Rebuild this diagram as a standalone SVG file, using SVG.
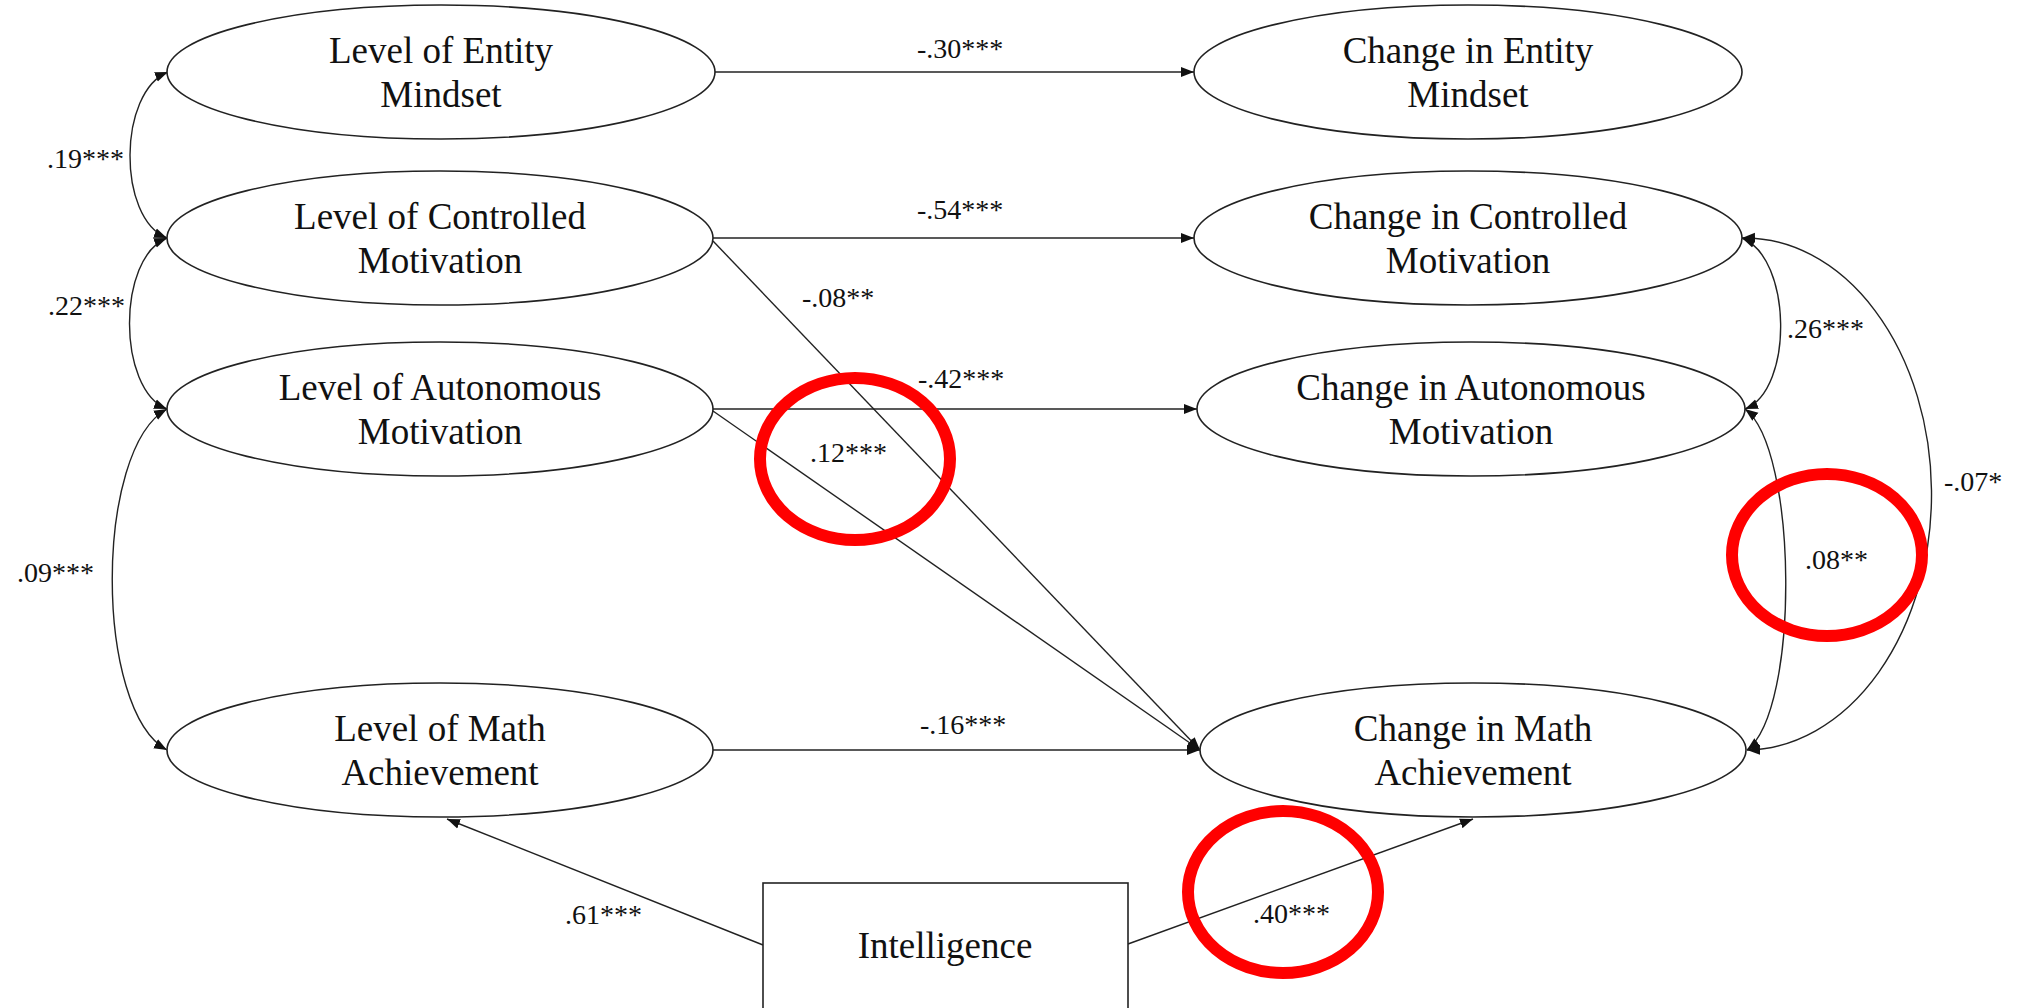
<svg xmlns="http://www.w3.org/2000/svg" width="2018" height="1008" viewBox="0 0 2018 1008">
<defs>
<marker id="arr" markerUnits="userSpaceOnUse" markerWidth="14" markerHeight="12" refX="13" refY="6" orient="auto-start-reverse" viewBox="0 0 14 12">
<path d="M0,1 L13,6 L0,11 z" fill="#111"/>
</marker>
</defs>
<style>
.node ellipse, .node rect { fill: #fff; stroke: #222; stroke-width: 1.6; }
.node text { font-family: "Liberation Serif", "Times New Roman", serif; font-size: 37px; fill: #111; text-anchor: middle; }
.conn path, .conn line { fill: none; stroke: #222; stroke-width: 1.4; }
.lbl { font-family: "Liberation Serif", "Times New Roman", serif; font-size: 28px; fill: #111; }
.mark ellipse { fill: none; stroke: #ff0000; stroke-width: 12; }
</style>
<rect width="2018" height="1008" fill="#fff"/>

<g id="connectors" class="conn">
<line x1="715" y1="72" x2="1194" y2="72" marker-end="url(#arr)"/>
<line x1="713" y1="238" x2="1194" y2="238" marker-end="url(#arr)"/>
<line x1="713" y1="409" x2="1197" y2="409" marker-end="url(#arr)"/>
<line x1="713" y1="750" x2="1200" y2="750" marker-end="url(#arr)"/>
<line x1="713" y1="241" x2="1200" y2="750" marker-end="url(#arr)"/>
<line x1="713" y1="411" x2="1200" y2="750" marker-end="url(#arr)"/>
<line x1="763" y1="945" x2="447" y2="819" marker-end="url(#arr)"/>
<line x1="1128" y1="944" x2="1473" y2="819" marker-end="url(#arr)"/>
<path d="M168 72 C118 92 117 218 167 238" marker-start="url(#arr)" marker-end="url(#arr)"/>
<path d="M167 238 C117 258 117 389 167 409" marker-start="url(#arr)" marker-end="url(#arr)"/>
<path d="M167 409 C94 449 94 710 167 750" marker-start="url(#arr)" marker-end="url(#arr)"/>
<path d="M1742 238 C1792 258 1794 389 1745 409" marker-start="url(#arr)" marker-end="url(#arr)"/>
<path d="M1745 409 C1798 449 1800 710 1747 750" marker-start="url(#arr)" marker-end="url(#arr)"/>
<path d="M1742 238 A187 256 0 0 1 1747 750" marker-start="url(#arr)" marker-end="url(#arr)"/>
<text class="lbl" x="47" y="168">.19***</text>
<text class="lbl" x="48" y="315">.22***</text>
<text class="lbl" x="17" y="582">.09***</text>
<text class="lbl" x="917" y="58">-.30***</text>
<text class="lbl" x="917" y="219">-.54***</text>
<text class="lbl" x="918" y="388">-.42***</text>
<text class="lbl" x="802" y="307">-.08**</text>
<text class="lbl" x="810" y="462">.12***</text>
<text class="lbl" x="920" y="734">-.16***</text>
<text class="lbl" x="565" y="924">.61***</text>
<text class="lbl" x="1253" y="923">.40***</text>
<text class="lbl" x="1787" y="338">.26***</text>
<text class="lbl" x="1805" y="569">.08**</text>
<text class="lbl" x="1944" y="491">-.07*</text>
</g>

<g id="level-entity" class="node">
<ellipse cx="441" cy="72" rx="274" ry="67"/>
<text x="441" y="63">Level of Entity</text>
<text x="441" y="107">Mindset</text>
</g>
<g id="level-controlled" class="node">
<ellipse cx="440" cy="238" rx="273" ry="67"/>
<text x="440" y="229">Level of Controlled</text>
<text x="440" y="273">Motivation</text>
</g>
<g id="level-autonomous" class="node">
<ellipse cx="440" cy="409" rx="273" ry="67"/>
<text x="440" y="400">Level of Autonomous</text>
<text x="440" y="444">Motivation</text>
</g>
<g id="level-math" class="node">
<ellipse cx="440" cy="750" rx="273" ry="67"/>
<text x="440" y="741">Level of Math</text>
<text x="440" y="785">Achievement</text>
</g>
<g id="change-entity" class="node">
<ellipse cx="1468" cy="72" rx="274" ry="67"/>
<text x="1468" y="63">Change in Entity</text>
<text x="1468" y="107">Mindset</text>
</g>
<g id="change-controlled" class="node">
<ellipse cx="1468" cy="238" rx="274" ry="67"/>
<text x="1468" y="229">Change in Controlled</text>
<text x="1468" y="273">Motivation</text>
</g>
<g id="change-autonomous" class="node">
<ellipse cx="1471" cy="409" rx="274" ry="67"/>
<text x="1471" y="400">Change in Autonomous</text>
<text x="1471" y="444">Motivation</text>
</g>
<g id="change-math" class="node">
<ellipse cx="1473" cy="750" rx="273" ry="67"/>
<text x="1473" y="741">Change in Math</text>
<text x="1473" y="785">Achievement</text>
</g>
<g id="intelligence" class="node">
<rect x="763" y="883" width="365" height="130"/>
<text x="945" y="958">Intelligence</text>
</g>

<g id="highlights" class="mark">
<ellipse cx="855" cy="459" rx="95" ry="81"/>
<ellipse cx="1283" cy="892" rx="95" ry="81"/>
<ellipse cx="1827" cy="555" rx="95" ry="81"/>
</g>
</svg>
